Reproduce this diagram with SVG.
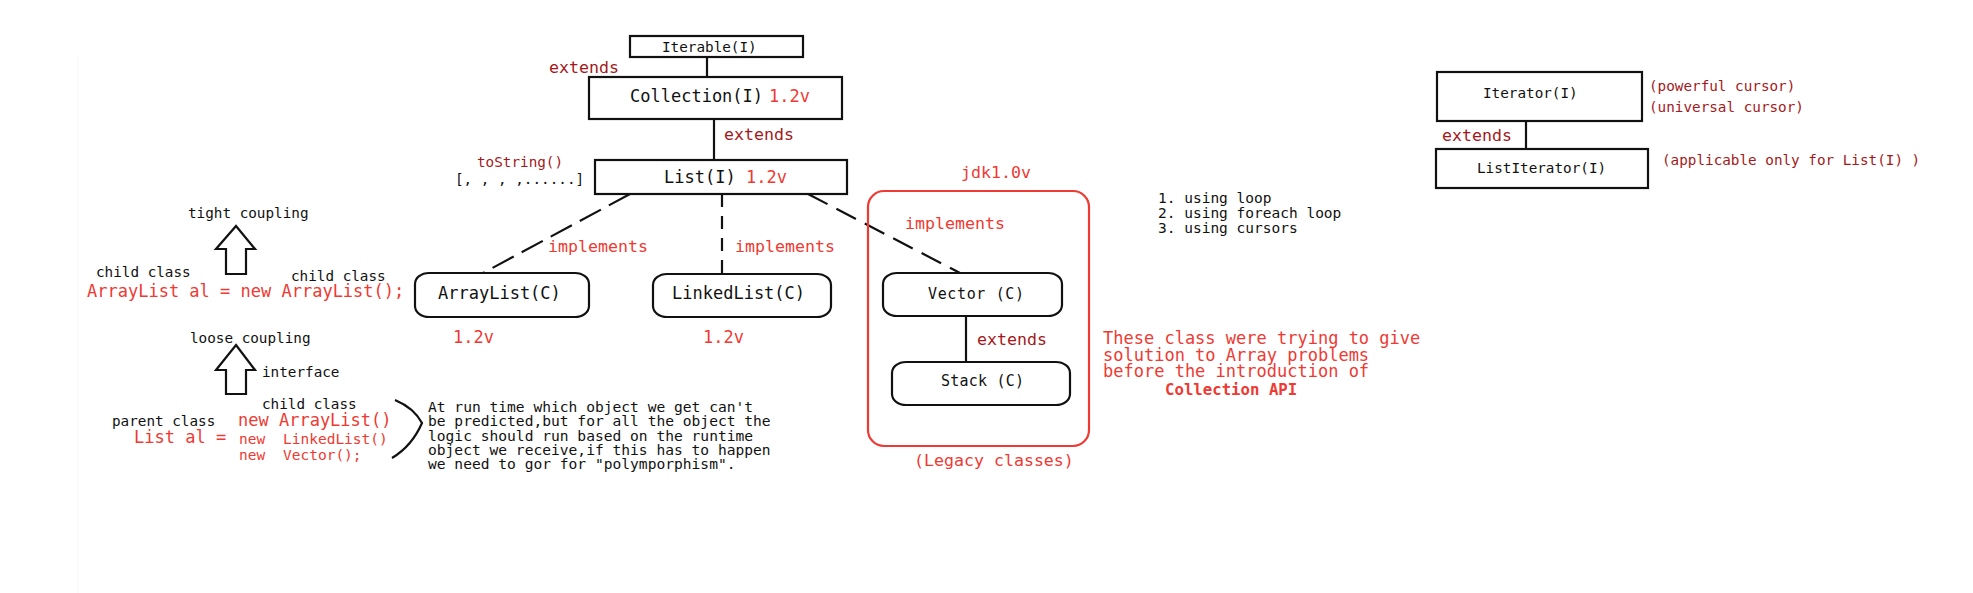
<svg xmlns="http://www.w3.org/2000/svg" width="1973" height="593" viewBox="0 0 1973 593">
<style>
text{font-family:"DejaVu Sans Mono","Liberation Mono",monospace;}
.k{fill:#111;}
.r{fill:#ee3a33;}
.d{fill:#a3191b;}
.box{fill:#fff;stroke:#111;stroke-width:2.2;}
.ln{stroke:#111;stroke-width:2.2;fill:none;}
.f17{font-size:17px;}
.f15{font-size:15px;}
.f14{font-size:14.3px;}
.f16{font-size:16.6px;}
</style>
<rect width="1973" height="593" fill="#fff"/>
<line x1="78" y1="56" x2="78" y2="593" stroke="#f4f4f4" stroke-width="1"/>

<g id="connectors">
<line class="ln" x1="707" y1="57" x2="707" y2="77"/>
<line class="ln" x1="714" y1="119" x2="714" y2="160"/>
<line class="ln" x1="630" y1="194" x2="483" y2="273" stroke-dasharray="24 9"/>
<line class="ln" x1="722" y1="194" x2="722" y2="274" stroke-dasharray="13 9"/>
<line class="ln" x1="808" y1="194" x2="960" y2="273" stroke-dasharray="22 10"/>
<line class="ln" x1="966" y1="316" x2="966" y2="362"/>
<line class="ln" x1="1526" y1="121" x2="1526" y2="149"/>
</g>

<g id="iterable">
<rect class="box" x="630" y="36" width="173" height="21"/>
<text class="k f14" x="662" y="52">Iterable(I)</text>
</g>
<text class="d f16" x="549" y="73">extends</text>

<g id="collection">
<rect class="box" x="589" y="77" width="253" height="42"/>
<text class="k f17" x="630" y="102">Collection(I)</text>
<text class="r f17" x="769" y="102">1.2v</text>
</g>
<text class="d f16" x="724" y="140">extends</text>

<g id="list">
<rect class="box" x="595" y="160" width="252" height="34"/>
<text class="k f17" x="664" y="183">List(I)</text>
<text class="r f17" x="746" y="183">1.2v</text>
</g>
<text class="d f14" x="477" y="167">toString()</text>
<text class="k f14" x="455" y="184">[, , , ,......]</text>

<text class="r f16" x="548" y="252">implements</text>
<text class="r f16" x="735" y="252">implements</text>

<g id="arraylist">
<rect class="box" x="415" y="273" width="174" height="44" rx="14" ry="11"/>
<text class="k f17" x="438" y="299">ArrayList(C)</text>
</g>
<text class="r f17" x="453" y="343">1.2v</text>

<g id="linkedlist">
<rect class="box" x="653" y="274" width="178" height="43" rx="14" ry="11"/>
<text class="k f17" x="672" y="299">LinkedList(C)</text>
</g>
<text class="r f17" x="703" y="343">1.2v</text>

<g id="legacy">
<rect x="868" y="191" width="221" height="255" rx="16" ry="16" fill="none" stroke="#ee3a33" stroke-width="2.2"/>
<text class="r f16" x="961" y="178">jdk1.0v</text>
<text class="r f16" x="905" y="229">implements</text>
<text class="r f16" x="914" y="466">(Legacy classes)</text>
</g>

<g id="vector">
<rect class="box" x="883" y="273" width="179" height="43" rx="14" ry="11"/>
<text class="k f15" x="928" y="299" textLength="96">Vector (C)</text>
</g>
<text class="d f16" x="977" y="345">extends</text>

<g id="stack">
<rect class="box" x="892" y="362" width="178" height="43" rx="14" ry="11"/>
<text class="k f15" x="941" y="386" textLength="83">Stack (C)</text>
</g>

<g id="ways" class="k" font-size="14.5px">
<text x="1158" y="203">1. using loop</text>
<text x="1158" y="218">2. using foreach loop</text>
<text x="1158" y="233">3. using cursors</text>
</g>

<g id="legacy-note" class="r" font-size="17px">
<text x="1103" y="344">These class were trying to give</text>
<text x="1103" y="361">solution to Array problems</text>
<text x="1103" y="377">before the introduction of</text>
<text x="1165" y="395" font-weight="bold" font-size="15.7px">Collection API</text>
</g>

<g id="iterator">
<rect class="box" x="1437" y="72" width="205" height="49"/>
<text class="k f14" x="1483" y="98">Iterator(I)</text>
</g>
<text class="d f16" x="1442" y="141">extends</text>
<g id="listiterator">
<rect class="box" x="1436" y="149" width="212" height="39"/>
<text class="k f14" x="1477" y="173">ListIterator(I)</text>
</g>
<text class="d f14" x="1649" y="91">(powerful cursor)</text>
<text class="d f14" x="1649" y="112">(universal cursor)</text>
<text class="d f14" x="1662" y="165">(applicable only for List(I) )</text>

<g id="coupling">
<text class="k f14" x="188" y="218">tight coupling</text>
<path class="ln" d="M236,226 L255,249 L246,249 L246,274 L226,274 L226,249 L216,249 Z"/>
<text class="k f14" x="96" y="277">child class</text>
<text class="k f14" x="291" y="281">child class</text>
<text class="r f17" x="87" y="297">ArrayList al = new ArrayList();</text>
<text class="k f14" x="190" y="343">loose coupling</text>
<path class="ln" d="M236,345 L255,370 L246,370 L246,394 L226,394 L226,370 L216,370 Z"/>
<text class="k f14" x="262" y="377">interface</text>
</g>

<g id="polymorphism">
<text class="k f14" x="262" y="409">child class</text>
<text class="k f14" x="112" y="426">parent class</text>
<text class="r f17" x="238" y="426">new ArrayList()</text>
<text class="r f17" x="134" y="443">List al =</text>
<text class="r" font-size="14.5px" x="239" y="444">new</text>
<text class="r" font-size="14.5px" x="283" y="444">LinkedList()</text>
<text class="r" font-size="14.5px" x="239" y="460">new</text>
<text class="r" font-size="14.5px" x="283" y="460">Vector();</text>
<path class="ln" d="M395,400 Q414,408 422,423 Q412,446 392,458"/>
<g class="k" font-size="14.6px">
<text x="428" y="412">At run time which object we get can't</text>
<text x="428" y="426">be predicted,but for all the object the</text>
<text x="428" y="441">logic should run based on the runtime</text>
<text x="428" y="455">object we receive,if this has to happen</text>
<text x="428" y="469">we need to gor for "polymporphism".</text>
</g>
</g>
</svg>
